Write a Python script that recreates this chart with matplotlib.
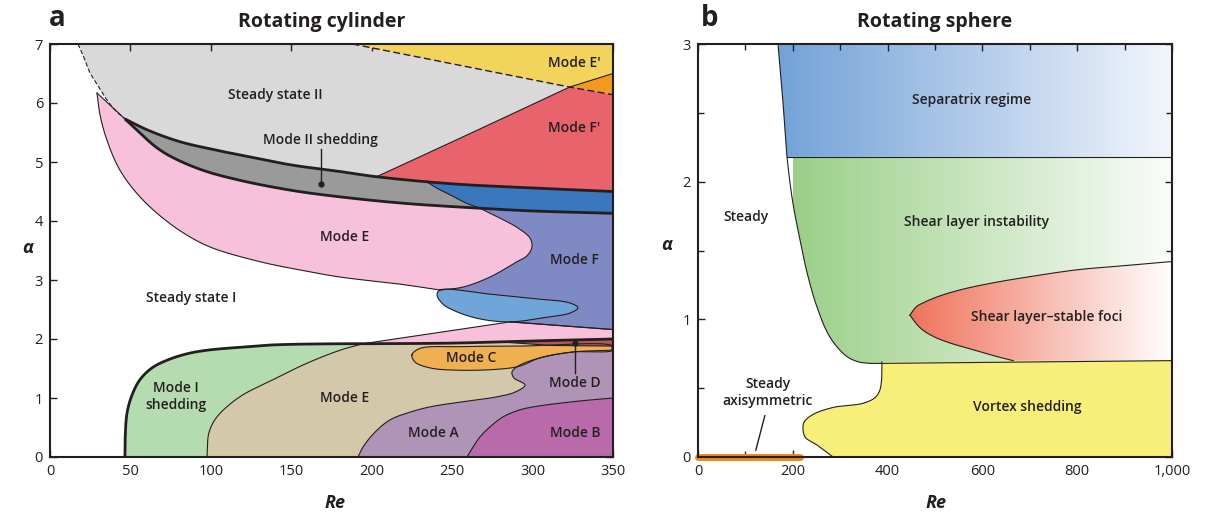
import numpy as np
import matplotlib
matplotlib.use('Agg')
import matplotlib.pyplot as plt
from matplotlib.patches import Polygon
from matplotlib.colors import to_rgb

plt.rcParams['font.family'] = ['Open Sans', 'DejaVu Sans']

# ---------------- Left panel data (Re, alpha) ----------------
dash_re = [17.4, 20.5, 24.9, 30, 35.4, 40.4, 46.6]
dash_a = [7.0, 6.81, 6.51, 6.29, 6.05, 5.88, 5.73]
up_re = [46.6, 60, 80, 100, 118, 150, 180, 203, 250, 300, 350]
up_a = [5.73, 5.55, 5.35, 5.22, 5.12, 4.95, 4.84, 4.75, 4.63, 4.56, 4.50]
lo_re = [46.6, 56, 66, 76, 95, 118, 150, 180, 220, 265, 300, 350]
lo_a = [5.73, 5.49, 5.25, 5.08, 4.86, 4.69, 4.52, 4.41, 4.30, 4.22, 4.17, 4.13]
fp_re = [203, 257, 323, 350]
fp_a = [4.75, 5.43, 6.27, 6.50]
ep_re = [188, 323, 350]
ep_a = [7.0, 6.27, 6.14]
pe_re = [29.2, 31.1, 35.4, 43.5, 55.9, 71.5, 87.0, 101.3, 130.5, 155.4, 180.3, 217.6, 242.4]
pe_a = [6.17, 5.80, 5.37, 4.86, 4.41, 4.02, 3.73, 3.54, 3.31, 3.17, 3.05, 2.93, 2.83]
bulge_re = [267, 279.7, 291, 298.4, 299.6, 296.5, 290.3, 273.5, 256.7, 242.4]
bulge_a = [4.22, 4.05, 3.88, 3.71, 3.56, 3.41, 3.31, 3.05, 2.88, 2.83]
blue_re = [234, 241, 249, 259, 267]
blue_a = [4.67, 4.55, 4.44, 4.30, 4.22]
blob_re = [242.4, 273.5, 298.4, 323.3, 328.2, 323.3, 309.0, 286.0, 267.3, 253.0, 244.3, 240.6]
blob_a = [2.83, 2.76, 2.69, 2.61, 2.53, 2.44, 2.37, 2.29, 2.34, 2.46, 2.59, 2.75]
pf_low_re = [286.0, 350]
pf_low_a = [2.29, 2.16]
m1_re = [46.6, 46.7, 47.9, 51, 55.9, 63.4, 72.7, 85.2, 97.6, 118.1, 138.6, 180.3, 194.6, 248.7, 304.6, 350]
m1_a = [0, 0.29, 0.75, 1.05, 1.31, 1.51, 1.64, 1.75, 1.81, 1.86, 1.90, 1.92, 1.92, 1.93, 1.97, 2.0]
tan_re = [97.6, 98.8, 103.8, 118, 138.6, 159.8, 180.3, 194.6]
tan_a = [0, 0.41, 0.68, 1.02, 1.31, 1.59, 1.81, 1.92]
plb_re = [194.6, 286, 350]
plb_a = [1.92, 2.29, 2.16]
ma_re = [191.5, 194.6, 202, 211.4, 223.8, 236.2, 254.9, 277.9, 289.1, 295.3, 288.4, 287.2, 290.9, 304.6, 325.1, 350]
ma_a = [0, 0.17, 0.42, 0.63, 0.76, 0.85, 0.93, 1.02, 1.10, 1.22, 1.34, 1.44, 1.54, 1.68, 1.78, 1.81]
mb_re = [259.2, 263, 267.3, 273.5, 281.6, 292.2, 302.7, 329.5, 350]
mb_a = [0, 0.17, 0.34, 0.51, 0.68, 0.80, 0.86, 0.95, 1.0]
mc_re = [225, 230, 254.9, 292, 350, 350, 325.1, 304.6, 292, 279.7, 254.9, 236.2, 226.9]
mc_a = [1.73, 1.84, 1.87, 1.88, 1.88, 1.81, 1.78, 1.68, 1.54, 1.49, 1.47, 1.51, 1.61]
dr_re = [280, 304.6, 350, 350, 312, 280]
dr_a = [1.95, 1.97, 2.0, 1.88, 1.89, 1.95]

left_labels = [
    ("Steady state II", 140, 6.14), ("Mode II shedding", 168, 5.37),
    ("Mode E\u2032", 326, 6.68), ("Mode F\u2032", 326, 5.58),
    ("Mode E", 183.4, 3.73), ("Mode F", 326, 3.34),
    ("Steady state I", 87.7, 2.70), ("Mode C", 262, 1.68),
    ("Mode I\nshedding", 78.3, 1.02), ("Mode E", 183.4, 1.0),
    ("Mode D", 326.4, 1.25), ("Mode A", 238, 0.41), ("Mode B", 326.7, 0.41),
]

# ---------------- Right panel data ----------------
steady_re = [168.8, 179, 187.8, 200, 215, 230, 251, 278.5, 314, 340, 363]
steady_a = [3.0, 2.59, 2.18, 1.85, 1.58, 1.34, 1.09, 0.87, 0.73, 0.69, 0.68]
sep_a = 2.18
shear_low_re = [363, 388, 1000]
shear_low_a = [0.68, 0.68, 0.70]
fu_re = [447, 460, 475, 510, 560, 630, 700, 800, 900, 1000]
fu_a = [1.03, 1.09, 1.12, 1.17, 1.22, 1.27, 1.31, 1.36, 1.39, 1.42]
fl_re = [447, 460, 475, 500, 530, 559, 600, 630, 665]
fl_a = [1.03, 0.97, 0.92, 0.87, 0.83, 0.80, 0.76, 0.73, 0.70]
vs_re = [388, 387, 383, 373, 348, 285, 243, 225, 221.5, 226, 251, 285]
vs_a = [0.69, 0.55, 0.48, 0.43, 0.39, 0.36, 0.31, 0.26, 0.22, 0.145, 0.087, 0]
axi_re = [0, 215]
axi_a = [0, 0]

right_labels = [
    ("Separatrix regime", 578, 2.59), ("Steady", 102, 1.74),
    ("Shear layer instability", 587, 1.71), ("Shear layer\u2013stable foci", 736, 1.02),
    ("Vortex shedding", 694, 0.36), ("Steady\naxisymmetric", 147, 0.47),
]

# ---------------- helpers ----------------
def smooth(xs, ys, kx, ky, closed=False, n=24):
    """Centripetal Catmull-Rom curve through the given points."""
    P = np.column_stack([np.asarray(xs, float) * kx, np.asarray(ys, float) * ky])
    if closed:
        pts = np.vstack([P[-1], P, P[0], P[1]])
    else:
        pts = np.vstack([2 * P[0] - P[1], P, 2 * P[-1] - P[-2]])
    out = []
    for i in range(len(pts) - 3):
        p0, p1, p2, p3 = pts[i:i + 4]
        t0 = 0.0
        t1 = t0 + max(np.linalg.norm(p1 - p0), 1e-6) ** 0.5
        t2 = t1 + max(np.linalg.norm(p2 - p1), 1e-6) ** 0.5
        t3 = t2 + max(np.linalg.norm(p3 - p2), 1e-6) ** 0.5
        t = np.linspace(t1, t2, n, endpoint=False)[:, None]
        A1 = (t1 - t) / (t1 - t0) * p0 + (t - t0) / (t1 - t0) * p1
        A2 = (t2 - t) / (t2 - t1) * p1 + (t - t1) / (t2 - t1) * p2
        A3 = (t3 - t) / (t3 - t2) * p2 + (t - t2) / (t3 - t2) * p3
        B1 = (t2 - t) / (t2 - t0) * A1 + (t - t0) / (t2 - t0) * A2
        B2 = (t3 - t) / (t3 - t1) * A2 + (t - t1) / (t3 - t1) * A3
        C = (t2 - t) / (t2 - t1) * B1 + (t - t1) / (t2 - t1) * B2
        out.append(C)
    out.append((P[0] if closed else P[-1])[None, :])
    C = np.vstack(out)
    return np.column_stack([C[:, 0] / kx, C[:, 1] / ky])

KXL, KYL = 563 / 350, 413 / 7
KXR, KYR = 474 / 1000, 413 / 3

def sL(xs, ys, closed=False):
    return smooth(xs, ys, KXL, KYL, closed)

def sR(xs, ys, closed=False):
    return smooth(xs, ys, KXR, KYR, closed)

def part(C, x0, x1):
    m = (C[:, 0] >= x0 - 1e-9) & (C[:, 0] <= x1 + 1e-9)
    return C[m]

def fill(ax, pts, color, z):
    ax.add_patch(Polygon(pts, closed=True, facecolor=color, edgecolor='none', zorder=z))

def P(*parts):
    return np.vstack([np.atleast_2d(np.asarray(p, float)) for p in parts])

K = '#231f20'
fig = plt.figure(figsize=(12.06, 5.16), dpi=100)
axL = fig.add_axes([50/1206, 59/516, 563/1206, 413/516])
axR = fig.add_axes([698/1206, 59/516, 474/1206, 413/516])

# smoothed boundary curves (left)
DASH = sL(dash_re, dash_a)
UP = sL(up_re, up_a)
LO = sL(lo_re, lo_a)
FP = P(sL(fp_re[:3], fp_a[:3]), [fp_re[3], fp_a[3]])
PE = sL(pe_re, pe_a)
BUL = sL(bulge_re, bulge_a)
BLU = sL(blue_re, blue_a)
BLOB = sL(blob_re, blob_a, closed=True)
M1 = sL(m1_re, m1_a)
TAN = sL(tan_re, tan_a)
PLB = np.column_stack([plb_re, plb_a])
MA = sL(ma_re, ma_a)
MB = sL(mb_re, mb_a)
MC = sL(mc_re, mc_a, closed=True)

# ---------------- Left panel ----------------
ax = axL
fill(ax, P(DASH, UP, [350, 7]), '#d9d9d9', 1)
fill(ax, P([ep_re[0], ep_a[0]], [ep_re[1], ep_a[1]], FP[-1], [350, 7]), '#f2d35b', 2)
fill(ax, P([ep_re[1], ep_a[1]], FP[-1], [ep_re[2], ep_a[2]]), '#f39a1e', 2)
fill(ax, P(FP[:-1], [ep_re[2], ep_a[2]], part(UP, 203, 350)[::-1]), '#e8636b', 2)
fill(ax, P(UP, LO[::-1]), '#9a9a9a', 2)
fill(ax, P(BLU, part(LO, 267, 350), part(UP, 234, 350)[::-1]), '#3a77bc', 3)
fill(ax, P(part(LO, 267, 350), [pf_low_re[1], pf_low_a[1]], [pf_low_re[0], pf_low_a[0]],
           [blob_re[0], blob_a[0]], BUL[::-1]), '#7f89c4', 3)
fill(ax, BLOB, '#70a5d9', 4)
fill(ax, P([pe_re[0], pe_a[0]], part(LO, 46.6, 267), BUL, PE[::-1]), '#f7c1db', 4)
fill(ax, P(M1, [350, 0]), '#b5dcb0', 2)
fill(ax, P(TAN, part(M1, 194.6, 350), [350, 0]), '#d4c8ab', 3)
fill(ax, P(PLB, part(M1, 194.6, 350)[::-1]), '#f7c1db', 4)
fill(ax, P(MA, [350, 0]), '#b094b7', 4)
fill(ax, P(MB, [350, 0]), '#b96aab', 5)
fill(ax, MC, '#f0b051', 5)
fill(ax, np.column_stack([dr_re, dr_a]), '#b5585a', 5)

thin = dict(color=K, lw=0.8, zorder=8, solid_joinstyle='round')

def line(ax, C, **kw):
    ax.plot(C[:, 0], C[:, 1], **kw)

ax.plot([pe_re[0], lo_re[0]], [pe_a[0], lo_a[0]], **thin)
for C in (PE, BUL, BLU, BLOB, FP, PLB, TAN, MA, MB):
    line(ax, C, **thin)
ax.plot(pf_low_re, pf_low_a, **thin)
line(ax, MC[MC[:, 0] < 349.5], **thin)
ax.plot(dr_re[3:], dr_a[3:], **thin)
thick = dict(color=K, lw=2.0, zorder=9, solid_capstyle='butt')
for C in (UP, LO, M1):
    line(ax, C, **thick)
line(ax, DASH, color=K, lw=0.8, ls=(0, (4, 2)), zorder=9)
ax.plot(ep_re, ep_a, color=K, lw=1.0, ls=(0, (5, 2.5)), zorder=9)

# leaders
ax.plot([168.5, 168.5], [5.22, 4.63], color=K, lw=1.0, zorder=10)
ax.plot([168.5], [4.63], 'o', color=K, ms=3.5, zorder=10)
ax.plot([326.4, 326.4], [1.42, 1.93], color=K, lw=1.0, zorder=10)
ax.plot([326.4], [1.93], 'o', color=K, ms=3.5, zorder=10)

for txt, x, y in left_labels:
    ax.text(x, y, txt, ha='center', va='center', fontsize=10, fontweight='semibold',
            color=K, zorder=11, linespacing=1.3)

ax.set_xlim(0, 350)
ax.set_ylim(0, 7)
ax.set_xticks(range(0, 351, 50))
ax.set_yticks(range(0, 8))

# ---------------- Right panel ----------------
ax = axR

def grad_fill(ax, pts, c0, c1, x0, x1, z):
    poly = Polygon(pts, closed=True, facecolor='none', edgecolor='none')
    ax.add_patch(poly)
    t = np.linspace(0, 1, 256)
    a = np.array(to_rgb(c0)); b = np.array(to_rgb(c1))
    img = (a[None, :] * (1 - t[:, None]) + b[None, :] * t[:, None])[None, :, :]
    im = ax.imshow(img, extent=[x0, x1, 0, 3], aspect='auto', origin='lower',
                   interpolation='bilinear', zorder=z)
    im.set_clip_path(poly)

ST = sR(steady_re, steady_a)
FU = sR(fu_re, fu_a)
FL = sR(fl_re, fl_a)
VS = sR(vs_re, vs_a)

grad_fill(ax, P(part(ST, 0, 187.8), [1000, sep_a], [1000, 3]), '#72a2d8', '#f3f6fc', 170, 1000, 1)
grad_fill(ax, P(part(ST, 187.8, 400), np.column_stack([shear_low_re[1:], shear_low_a[1:]]),
                [1000, sep_a]), '#9bcf88', '#fbfdfb', 200, 1000, 1)
grad_fill(ax, P(FU, [1000, 0.70], FL[::-1]), '#f0735c', '#ffffff', 447, 1000, 2)
fill(ax, P(VS, [1000, 0], [1000, 0.70]), '#f8ef7b', 2)

for C in (ST, FU, FL, VS):
    line(ax, C, **thin)
ax.plot([187.8, 1000], [sep_a, sep_a], **thin)
ax.plot(shear_low_re, shear_low_a, **thin)
ax.plot(axi_re, axi_a, color='#f08a1c', lw=5, solid_capstyle='round', zorder=12, clip_on=False)
ax.plot([141, 122], [0.30, 0.05], color=K, lw=1.0, zorder=10)

for txt, x, y in right_labels:
    ax.text(x, y, txt, ha='center', va='center', fontsize=10, fontweight='semibold',
            color=K, zorder=11, linespacing=1.3)

ax.set_xlim(0, 1000)
ax.set_ylim(0, 3)
ax.set_xticks(range(0, 1001, 200))
ax.set_xticklabels(['0', '200', '400', '600', '800', '1,000'])
ax.set_xticks(range(100, 1000, 200), minor=True)
ax.set_yticks([0, 1, 2, 3])
ax.set_yticks([0.5, 1.5, 2.5], minor=True)

for ax in (axL, axR):
    for s in ax.spines.values():
        s.set_linewidth(1.5)
        s.set_color(K)
        s.set_zorder(13)
    ax.tick_params(which='both', direction='in', top=True, right=True, width=1.0,
                   color=K, labelcolor=K, labelsize=10.5, pad=5)
    ax.tick_params(which='major', length=5)
    ax.tick_params(which='minor', length=4)

fig.text(57/1206, 1 - 18/516, 'a', fontsize=20, fontweight='bold', ha='center', va='center', color=K)
fig.text(710/1206, 1 - 18/516, 'b', fontsize=20, fontweight='bold', ha='center', va='center', color=K)
fig.text(322/1206, 1 - 22/516, 'Rotating cylinder', fontsize=14, fontweight='bold', ha='center', va='center', color=K)
fig.text(935/1206, 1 - 22/516, 'Rotating sphere', fontsize=14, fontweight='bold', ha='center', va='center', color=K)
fig.text(335/1206, 1 - 503/516, 'Re', fontsize=13, fontweight='bold', style='italic', ha='center', va='center', color=K)
fig.text(936/1206, 1 - 503/516, 'Re', fontsize=13, fontweight='bold', style='italic', ha='center', va='center', color=K)
fig.text(28/1206, 1 - 248/516, '\u03b1', fontsize=13, fontweight='bold', style='italic', ha='center', va='center', color=K)
fig.text(667/1206, 1 - 245/516, '\u03b1', fontsize=13, fontweight='bold', style='italic', ha='center', va='center', color=K)

fig.savefig('out.png', dpi=100)
